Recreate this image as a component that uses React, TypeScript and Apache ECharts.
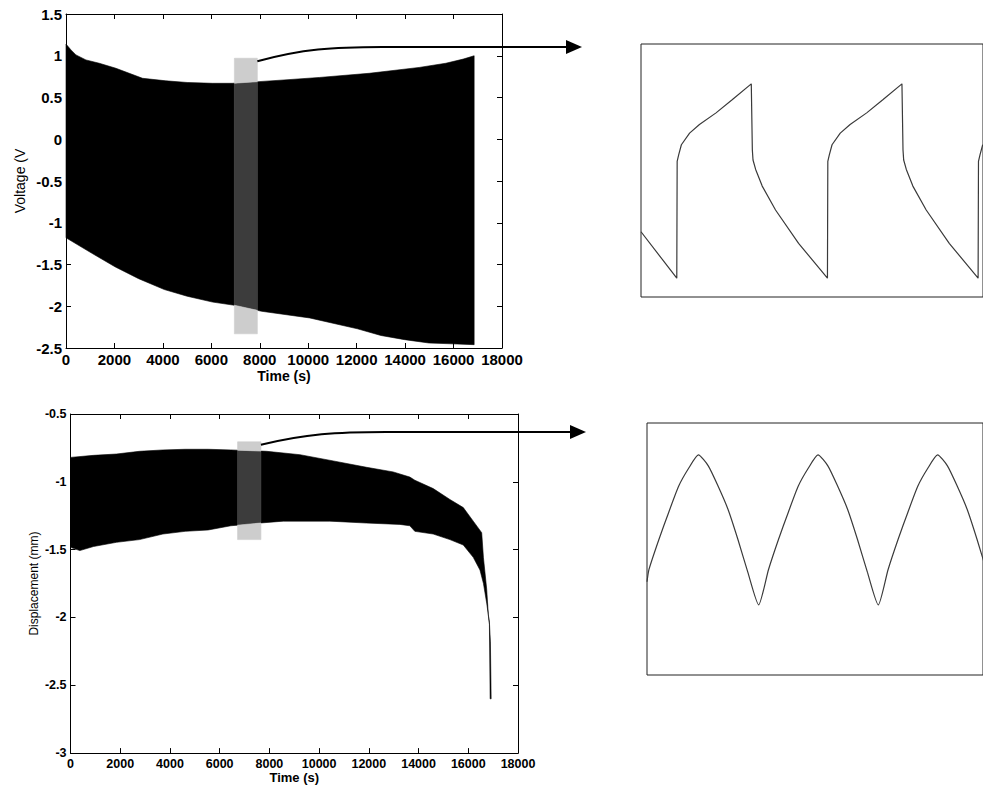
import React, { useEffect, useRef } from 'react';
import * as echarts from 'echarts';

const FONT = '"Liberation Sans", Arial, Helvetica, sans-serif';

// ---------- Overview: voltage envelope (time s, volts) ----------
const voltUpper: [number, number][] = [
  [0, 1.14], [206, 1.07], [412, 1.01], [823, 0.95], [1373, 0.91], [2060, 0.85],
  [3160, 0.73], [4120, 0.7], [5000, 0.68], [6040, 0.67], [6860, 0.67], [7960, 0.69],
  [9000, 0.71], [10460, 0.74], [12520, 0.79], [14580, 0.86], [15680, 0.91],
  [16400, 0.96], [16850, 1.0],
];
const voltLower: [number, number][] = [
  [0, -1.18], [1037, -1.36], [2040, -1.53], [3000, -1.67], [4060, -1.8], [5000, -1.88],
  [6050, -1.95], [6990, -1.99], [8070, -2.06], [10060, -2.14], [12030, -2.27],
  [13000, -2.35], [13980, -2.4], [14980, -2.44], [15930, -2.45], [16850, -2.46],
];
const voltWindow = { t0: 6950, t1: 7900, top: 0.97, bottom: -2.33 };

// ---------- Overview: displacement envelope (time s, mm) ----------
const dispUpper: [number, number][] = [
  [0, -0.82], [925, -0.805], [1850, -0.795], [2775, -0.775], [3715, -0.765], [4615, -0.76],
  [5540, -0.76], [6450, -0.765], [7890, -0.775], [9230, -0.8], [10570, -0.846],
  [11910, -0.893], [12980, -0.927], [13650, -0.965], [13850, -0.988], [14590, -1.05],
  [15260, -1.13], [15800, -1.19], [16200, -1.29], [16540, -1.375], [16610, -1.56],
  [16740, -1.79], [16810, -1.99], [16850, -2.05], [16880, -2.6],
];
const dispLower: [number, number][] = [
  [0, -1.483], [375, -1.507], [925, -1.477], [1850, -1.446], [2775, -1.426], [3715, -1.385],
  [4615, -1.365], [5540, -1.355], [6450, -1.324], [7620, -1.304], [8560, -1.29],
  [10430, -1.29], [11910, -1.304], [13250, -1.314], [13650, -1.324], [13850, -1.365],
  [14590, -1.385], [15260, -1.426], [15800, -1.466], [16200, -1.557], [16470, -1.65],
  [16610, -1.75], [16740, -1.894], [16850, -2.035], [16890, -2.18], [16920, -2.6],
];
const dispWindow = { t0: 6720, t1: 7660, top: -0.705, bottom: -1.426 };

// ---------- Zoomed voltage waveform (relative time s, volts) ----------
const voltZoomT = [
  0, 4.75, 4.8, 5.0, 5.36, 6.45, 7.76, 9.96, 12.1, 14.64,
  14.78, 14.87, 15.22, 16.09, 17.86, 20.92, 24.75, 24.8, 25.0, 25.36,
  26.45, 27.76, 29.96, 32.1, 34.64, 34.78, 34.87, 35.22, 36.09, 37.86,
  40.92, 44.75, 44.8, 45.0, 45.36,
];
const voltZoomV = [
  -1.36, -2.0, -0.39, -0.3, -0.16, 0.0, 0.12, 0.28, 0.46, 0.68,
  -0.23, -0.37, -0.5, -0.73, -1.06, -1.52, -2.0, -0.39, -0.3, -0.16,
  0.0, 0.12, 0.28, 0.46, 0.68, -0.23, -0.37, -0.5, -0.73, -1.06,
  -1.52, -2.0, -0.39, -0.3, -0.16,
];

// ---------- Zoomed displacement waveform (relative time s, mm) ----------
const dispZoomT = [
  0, 0.33, 1.99, 3.64, 5.29, 6.94, 8.6, 10.25, 11.9, 13.56, 15.21, 16.86,
  18.68, 20.33, 21.99, 23.64, 25.29, 26.94, 28.6, 30.25, 31.9, 33.56, 35.21, 36.86,
  38.68, 40.33, 41.99, 43.64, 45.29, 46.94, 48.6, 50.25, 51.9, 53.56, 55.21, 56.86,
];
const dispZoomD = [
  -1.235, -1.19, -1.08, -0.98, -0.885, -0.82, -0.77, -0.81, -0.885, -0.97, -1.08, -1.2,
  -1.32, -1.19, -1.08, -0.98, -0.885, -0.82, -0.77, -0.81, -0.885, -0.97, -1.08, -1.2,
  -1.32, -1.19, -1.08, -0.98, -0.885, -0.82, -0.77, -0.81, -0.885, -0.97, -1.08, -1.2,
];

const timeTicks = { min: 0, max: 18000, interval: 2000 };

type Win = { t0: number; t1: number; top: number; bottom: number };

// pixel-space slice of a polyline between two x positions
function slicePx(pts: number[][], x0: number, x1: number) {
  const at = (x: number) => {
    for (let i = 0; i < pts.length - 1; i++) {
      const a = pts[i], b = pts[i + 1];
      if (x >= a[0] && x <= b[0]) {
        const f = b[0] === a[0] ? 0 : (x - a[0]) / (b[0] - a[0]);
        return [x, a[1] + f * (b[1] - a[1])];
      }
    }
    return [x, pts[pts.length - 1][1]];
  };
  const out = [at(x0)];
  pts.forEach((p) => { if (p[0] > x0 && p[0] < x1) out.push(p); });
  out.push(at(x1));
  return out;
}

function envelopeSeries(xi: number, upper: [number, number][], lower: [number, number][], w: Win) {
  return {
    type: 'custom',
    xAxisIndex: xi,
    yAxisIndex: xi,
    silent: true,
    data: [upper[0]],
    renderItem: (_p: any, api: any) => {
      const up = upper.map((p) => api.coord(p));
      const lo = lower.map((p) => api.coord(p));
      const a = api.coord([w.t0, w.top]);
      const b = api.coord([w.t1, w.bottom]);
      const x0 = a[0], x1 = b[0];
      const band = (u: number[][], l: number[][]) => [...u, ...l.slice().reverse()];
      const leftPts = band(slicePx(up, up[0][0], x0), slicePx(lo, lo[0][0], x0));
      const rightPts = band(
        slicePx(up, x1, up[up.length - 1][0]),
        slicePx(lo, x1, lo[lo.length - 1][0]),
      );
      const upS = slicePx(up, x0, x1).map((p) => [p[0], Math.max(p[1], a[1])]);
      const loS = slicePx(lo, x0, x1).map((p) => [p[0], Math.min(p[1], b[1])]);
      const midPts = band(upS, loS);
      const lightTop = [[x0, a[1]], [x1, a[1]], ...upS.slice().reverse()];
      const lightBot = [...loS, [x1, b[1]], [x0, b[1]]];
      const poly = (pts: number[][], c: string) => ({
        type: 'polygon',
        shape: { points: pts },
        style: { fill: c, stroke: c, lineWidth: 0.6 },
      });
      return {
        type: 'group',
        children: [
          poly(leftPts, '#000'),
          poly(rightPts, '#000'),
          poly(midPts, '#3c3c3c'),
          poly(lightTop, '#cdcdcd'),
          poly(lightBot, '#cdcdcd'),
        ],
      };
    },
  };
}

function boxAxes(
  gridIndex: number,
  yMin: number,
  yMax: number,
  yInt: number,
  fontSize: number,
  xName: string,
  xNameSize: number,
  xNameGap: number,
  yName: string,
  yNameSize: number,
  yNameGap: number,
  labelMargin: number,
) {
  const line = { show: true, onZero: false, lineStyle: { color: '#000', width: 1 } };
  const tick = { show: true, inside: true, length: 5, lineStyle: { color: '#000', width: 1 } };
  const label = {
    fontFamily: FONT,
    fontSize,
    fontWeight: 'bold' as const,
    color: '#000',
    margin: labelMargin,
    formatter: (v: number) => String(v),
  };
  const xAxes = [
    {
      type: 'value', gridIndex, position: 'bottom', ...timeTicks,
      axisLine: line, axisTick: tick, axisLabel: label, splitLine: { show: false },
      name: xName, nameLocation: 'middle', nameGap: xNameGap,
      nameTextStyle: { fontFamily: FONT, fontSize: xNameSize, fontWeight: 'bold', color: '#000' },
    },
    {
      type: 'value', gridIndex, position: 'top', ...timeTicks,
      axisLine: line, axisTick: tick, axisLabel: { show: false }, splitLine: { show: false },
    },
  ];
  const yAxes = [
    {
      type: 'value', gridIndex, position: 'left', min: yMin, max: yMax, interval: yInt,
      axisLine: line, axisTick: tick, axisLabel: label, splitLine: { show: false },
      name: yName, nameLocation: 'middle', nameGap: yNameGap, nameRotate: 90,
      nameTextStyle: { fontFamily: FONT, fontSize: yNameSize, color: '#000' },
    },
    {
      type: 'value', gridIndex, position: 'right', min: yMin, max: yMax, interval: yInt,
      axisLine: line, axisTick: tick, axisLabel: { show: false }, splitLine: { show: false },
    },
  ];
  return { xAxes, yAxes };
}

function hiddenAxes(gridIndex: number, xMax: number, yMin: number, yMax: number) {
  return {
    x: { type: 'value', gridIndex, min: 0, max: xMax, show: false },
    y: { type: 'value', gridIndex, min: yMin, max: yMax, show: false },
  };
}

export default function App() {
  const ref = useRef<HTMLDivElement>(null);

  useEffect(() => {
    if (!ref.current) return;
    const chart = echarts.init(ref.current, undefined, { renderer: 'svg' });

    const top = boxAxes(0, -2.5, 1.5, 0.5, 15, 'Time (s)', 14, 21, 'Voltage (V', 14, 39, 4);
    const bot = boxAxes(2, -3, -0.5, 0.5, 12.5, 'Time (s)', 13, 16, 'Displacement (mm)', 12, 31, 4);
    const zr1 = hiddenAxes(1, 45.4, -2.26, 1.23);
    const zr2 = hiddenAxes(3, 56.2, -1.577, -0.653);

    // axis index layout: 0,1 -> grid0 ; 2 -> grid1 ; 3,4 -> grid2 ; 5 -> grid3
    const xAxis = [top.xAxes[0], top.xAxes[1], zr1.x, bot.xAxes[0], bot.xAxes[1], zr2.x];
    const yAxis = [top.yAxes[0], top.yAxes[1], zr1.y, bot.yAxes[0], bot.yAxes[1], zr2.y];

    chart.setOption({
      animation: false,
      backgroundColor: '#fff',
      grid: [
        { left: 66, top: 14, width: 436, height: 334, show: false },
        { left: 641, top: 44, width: 345, height: 253, show: true, borderColor: '#222', borderWidth: 1, backgroundColor: 'transparent' },
        { left: 70.5, top: 414, width: 447.5, height: 344, show: false },
        { left: 647, top: 423, width: 340, height: 252, show: true, borderColor: '#222', borderWidth: 1, backgroundColor: 'transparent' },
      ],
      xAxis,
      yAxis,
      series: [
        envelopeSeries(0, voltUpper, voltLower, voltWindow),
        {
          type: 'line', xAxisIndex: 2, yAxisIndex: 2, showSymbol: false, silent: true,
          data: voltZoomT.map((t, i) => [t, voltZoomV[i]]),
          lineStyle: { color: '#3a3a3a', width: 1.2 },
        },
        envelopeSeries(3, dispUpper, dispLower, dispWindow),
        {
          type: 'line', xAxisIndex: 5, yAxisIndex: 5, showSymbol: false, silent: true, smooth: 0.2,
          data: dispZoomT.map((t, i) => [t, dispZoomD[i]]),
          lineStyle: { color: '#3a3a3a', width: 1.2 },
        },
      ],
    });

    const px = (xi: number, p: number[]) =>
      chart.convertToPixel({ xAxisIndex: xi, yAxisIndex: xi }, p) as number[];

    const s1 = px(0, [voltWindow.t1, voltWindow.top]);
    const s2 = px(3, [dispWindow.t1, dispWindow.top]);

    const arrow = (sx: number, sy: number, ey: number, tip: number) => [
      {
        type: 'bezierCurve',
        z: 20,
        shape: { x1: sx, y1: sy, cpx1: sx + 45, cpy1: ey + 2, cpx2: sx + 75, cpy2: ey, x2: sx + 125, y2: ey },
        style: { stroke: '#000', lineWidth: 2, fill: 'none' },
        silent: true,
      },
      {
        type: 'line',
        z: 20,
        shape: { x1: sx + 124, y1: ey, x2: tip - 15, y2: ey },
        style: { stroke: '#000', lineWidth: 2 },
        silent: true,
      },
      {
        type: 'polygon',
        z: 20,
        shape: { points: [[tip - 16, ey - 7], [tip, ey], [tip - 16, ey + 7]] },
        style: { fill: '#000' },
        silent: true,
      },
    ];

    chart.setOption({
      graphic: [
        ...arrow(s1[0], s1[1] + 3, 47, 582),
        ...arrow(s2[0], s2[1] + 3, 432, 586),
      ],
    });

    return () => chart.dispose();
  }, []);

  return (
    <div
      ref={ref}
      style={{ position: 'fixed', left: 0, top: 0, width: 983, height: 785, background: '#fff' }}
    />
  );
}
